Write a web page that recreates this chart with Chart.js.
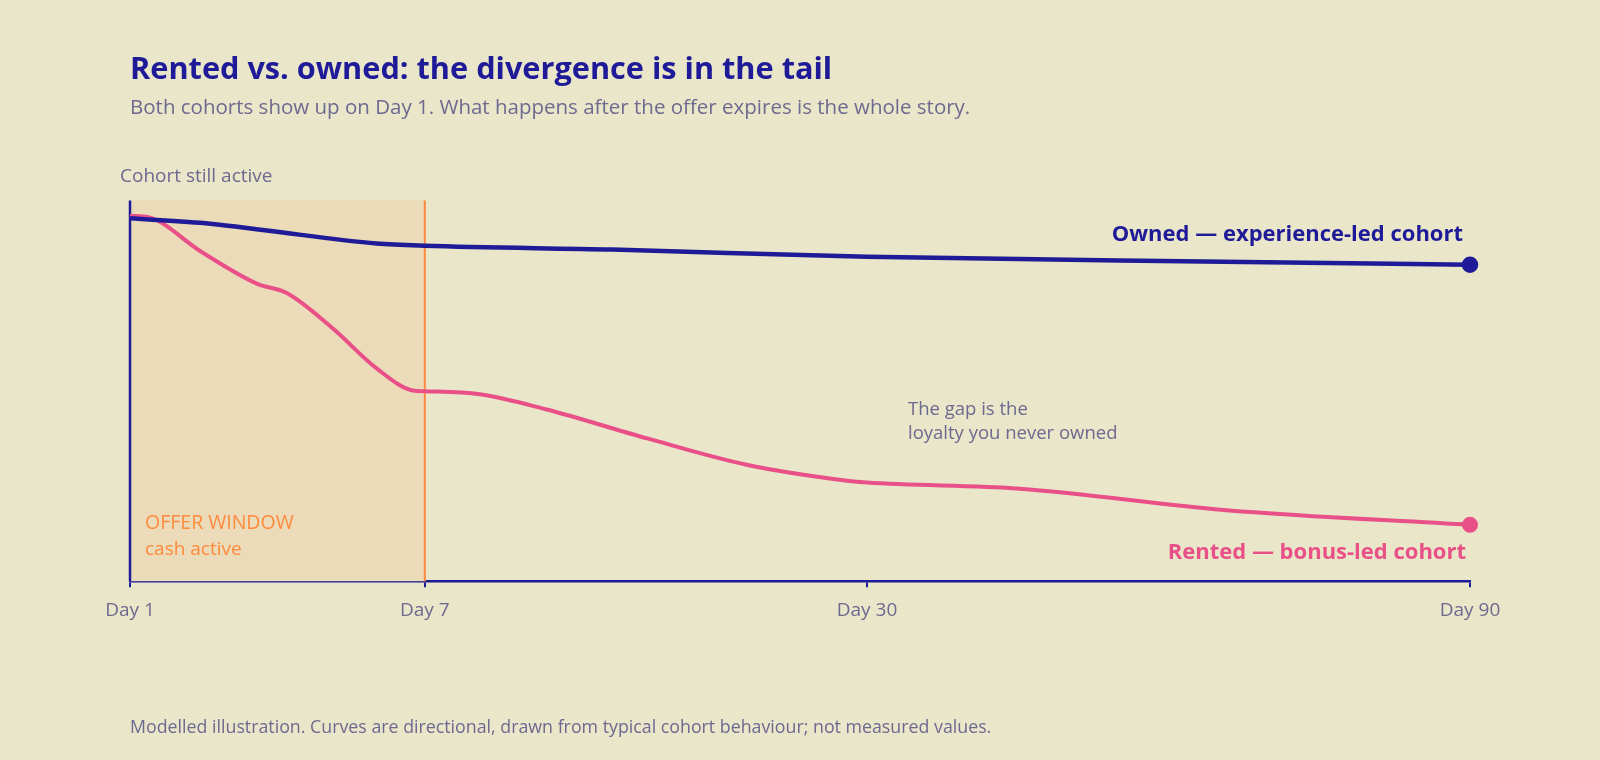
<!DOCTYPE html>
<html>
<head>
<meta charset="utf-8">
<script src="https://cdn.jsdelivr.net/npm/chart.js@4.4.1/dist/chart.umd.min.js"></script>
<style>
  html, body { margin: 0; padding: 0; background: #e9e6c9; }
  #wrap { width: 1600px; height: 760px; }
</style>
</head>
<body>
<div id="wrap"><canvas id="myChart" width="1600" height="760"></canvas></div>
<script>
// timeline position (0 = Day 1, 1 = Day 90); axis is not linear in days
var tickPos = [0, 0.22, 0.55, 1];
var tickLabels = ['Day 1', 'Day 7', 'Day 30', 'Day 90'];

// share of cohort still active (%)
var ownedX = [0, 0.06, 0.102, 0.184, 0.22, 0.36, 0.55, 0.816, 1];
var ownedY = [95.3, 93.9, 92.1, 88.7, 88.1, 87.1, 85.2, 83.9, 83.1];

var rentedX = [0, 0.015, 0.052, 0.095, 0.117, 0.151, 0.184, 0.211, 0.22, 0.261, 0.311, 0.386, 0.46, 0.535, 0.55, 0.664, 0.816, 1];
var rentedY = [96.0, 95.5, 86.8, 78.1, 75.7, 66.5, 55.9, 50.1, 49.9, 49.1, 45.1, 37.5, 30.6, 26.4, 25.9, 24.3, 18.7, 14.8];

var offerEnd = 0.22;

var NAVY = '#1f1b98';
var PINK = '#ea5088';
var ORANGE = '#ff8a3d';
var GREY = '#6d6990';
var FONT = '"Open Sans", Lato, sans-serif';

function toPoints(xs, ys) {
    var pts = [];
    for (var i = 0; i < xs.length; i++) {
        pts.push({ x: xs[i], y: ys[i] });
    }
    return pts;
}

function lastOnly(size) {
    return function(ctx) {
        return ctx.dataIndex === ctx.dataset.data.length - 1 ? size : 0;
    };
}

// shaded offer window, axis line and annotation text
var decor = {
    id: 'decor',
    beforeDraw: function(chart) {
        var c = chart.ctx;
        c.save();
        c.fillStyle = '#e9e6c9';
        c.fillRect(0, 0, chart.width, chart.height);
        c.restore();
    },
    beforeDatasetsDraw: function(chart) {
        var c = chart.ctx;
        var x = chart.scales.x;
        var a = chart.chartArea;
        var x0 = x.getPixelForValue(0);
        var x1 = x.getPixelForValue(offerEnd);
        c.save();
        c.fillStyle = '#ebdbb9';
        c.fillRect(x0, a.top, x1 - x0, a.bottom - a.top);
        c.strokeStyle = ORANGE;
        c.lineWidth = 2;
        c.beginPath();
        c.moveTo(x1, a.top);
        c.lineTo(x1, a.bottom);
        c.stroke();
        c.strokeStyle = NAVY;
        c.lineWidth = 2.5;
        c.beginPath();
        c.moveTo(x0, a.top);
        c.lineTo(x0, a.bottom);
        c.stroke();

        c.textBaseline = 'middle';
        c.textAlign = 'left';
        c.fillStyle = GREY;
        c.font = '19px ' + FONT;
        c.fillText('Cohort still active', 120, 177);
        c.font = '18.5px ' + FONT;
        c.fillText('The gap is the', 908, 410);
        c.fillText('loyalty you never owned', 908, 434);
        c.fillStyle = ORANGE;
        c.font = '19.5px ' + FONT;
        c.fillText('OFFER WINDOW', 145, 523);
        c.font = '19px ' + FONT;
        c.fillText('cash active', 145, 550);
        c.font = '17.8px ' + FONT;
        c.fillStyle = GREY;
        c.fillText('Modelled illustration. Curves are directional, drawn from typical cohort behaviour; not measured values.', 130, 728);
        c.restore();
    },
    afterDatasetsDraw: function(chart) {
        var c = chart.ctx;
        c.save();
        c.textBaseline = 'middle';
        c.textAlign = 'right';
        c.font = 'bold 22px ' + FONT;
        c.fillStyle = NAVY;
        c.fillText('Owned \u2014 experience-led cohort', 1463, 235);
        c.fillStyle = PINK;
        c.fillText('Rented \u2014 bonus-led cohort', 1466, 553);
        c.restore();
    }
};

new Chart(document.getElementById('myChart'), {
    type: 'line',
    data: {
        datasets: [
            {
                label: 'Owned',
                data: toPoints(ownedX, ownedY),
                borderColor: NAVY,
                backgroundColor: NAVY,
                borderWidth: 4.5,
                pointRadius: lastOnly(6),
                pointHoverRadius: lastOnly(6),
                cubicInterpolationMode: 'monotone'
            },
            {
                label: 'Rented',
                data: toPoints(rentedX, rentedY),
                borderColor: PINK,
                backgroundColor: PINK,
                borderWidth: 4,
                pointRadius: lastOnly(6),
                pointHoverRadius: lastOnly(6),
                cubicInterpolationMode: 'monotone'
            }
        ]
    },
    options: {
        responsive: false,
        animation: false,
        clip: false,
        layout: { padding: { left: 130, right: 130, top: 0, bottom: 126 } },
        plugins: {
            legend: { display: false },
            tooltip: { enabled: false },
            title: {
                display: true,
                text: 'Rented vs. owned: the divergence is in the tail',
                align: 'start',
                color: NAVY,
                font: { family: FONT, size: 30.7, weight: 'bold' },
                padding: { top: 52, bottom: 0 }
            },
            subtitle: {
                display: true,
                text: 'Both cohorts show up on Day 1. What happens after the offer expires is the whole story.',
                align: 'start',
                color: GREY,
                font: { family: FONT, size: 20.5 },
                padding: { top: 7, bottom: 80 }
            }
        },
        scales: {
            x: {
                type: 'linear',
                min: 0,
                max: 1,
                afterBuildTicks: function(scale) {
                    scale.ticks = tickPos.map(function(v) { return { value: v }; });
                },
                border: { display: true, color: NAVY, width: 2.5 },
                grid: { drawOnChartArea: false, drawTicks: true, tickLength: 6, color: NAVY, lineWidth: 2 },
                ticks: {
                    color: GREY,
                    padding: 12,
                    maxRotation: 0,
                    autoSkip: false,
                    font: { family: FONT, size: 19 },
                    callback: function(value) {
                        var i = tickPos.indexOf(value);
                        return i >= 0 ? tickLabels[i] : '';
                    }
                }
            },
            y: {
                display: false,
                min: 0,
                max: 100
            }
        }
    },
    plugins: [decor]
});
</script>
</body>
</html>
